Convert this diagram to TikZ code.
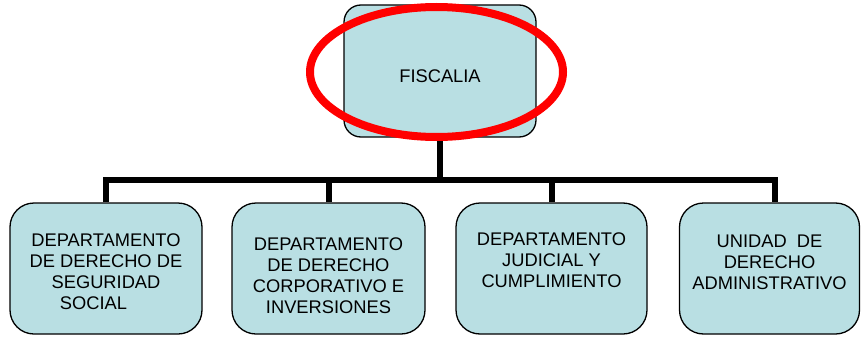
\documentclass[tikz,border=0pt]{standalone}
\usepackage{fontspec}
\setmainfont{Liberation Sans}
\usetikzlibrary{calc}
\definecolor{boxfill}{RGB}{185,223,227}
\definecolor{ringred}{RGB}{255,0,0}
\begin{document}
\begin{tikzpicture}[x=1pt,y=-1pt,
  orgbox/.style={draw=black,line width=1.3pt,fill=boxfill,rounded corners=24pt,minimum width=#1,minimum height=131pt,inner sep=0pt},
  topbox/.style={draw=black,line width=1.3pt,fill=boxfill,rounded corners=17pt,minimum width=192pt,minimum height=132pt,inner sep=0pt},
  label/.style={inner sep=0pt,align=center,font=\fontsize{18.3}{21}\selectfont},
  conn/.style={draw=black,line width=6pt,line join=miter},
  ring/.style={draw=ringred,line width=8pt}]
\useasboundingbox (0,0) rectangle (861,337);
% top box
\node[topbox] (top) at (440,71) {};
\node[label,anchor=center] (toptext) at (440,76) {FISCALIA};
% bottom boxes
\node[orgbox=192pt] (b1) at (106,268.5) {};
\node[orgbox=193pt] (b2) at (328.5,268.5) {};
\node[orgbox=191pt] (b3) at (551.5,268.5) {};
\node[orgbox=180pt] (b4) at (769.5,268.5) {};
\node[label,anchor=north] (t1) at (106,234) {DEPARTAMENTO\\DE DERECHO DE\\SEGURIDAD\\SOCIAL\hspace*{25pt}};
\node[label,anchor=north] (t2) at (328.5,238) {DEPARTAMENTO\\DE DERECHO\\CORPORATIVO E\\INVERSIONES};
\node[label,anchor=north] (t3) at (551.5,232.5) {DEPARTAMENTO\\JUDICIAL Y\\CUMPLIMIENTO};
\node[label,anchor=north] (t4) at (769.5,235) {UNIDAD\ \ DE\\DERECHO\\ADMINISTRATIVO};
% connectors
\coordinate (bus) at (440,180);
\coordinate (b4drop) at ([xshift=5.5pt]b4.north);
\draw[conn] (top.south) -- (top.south |- bus);
\draw[conn] (b1.north) |- (bus) -| (b4drop);
\draw[conn] (b2.north) -- (b2.north |- bus);
\draw[conn] (b3.north) -- (b3.north |- bus);
% red ellipse
\draw[ring] (436.5,72) ellipse [x radius=126.5, y radius=65];
\end{tikzpicture}
\end{document}
